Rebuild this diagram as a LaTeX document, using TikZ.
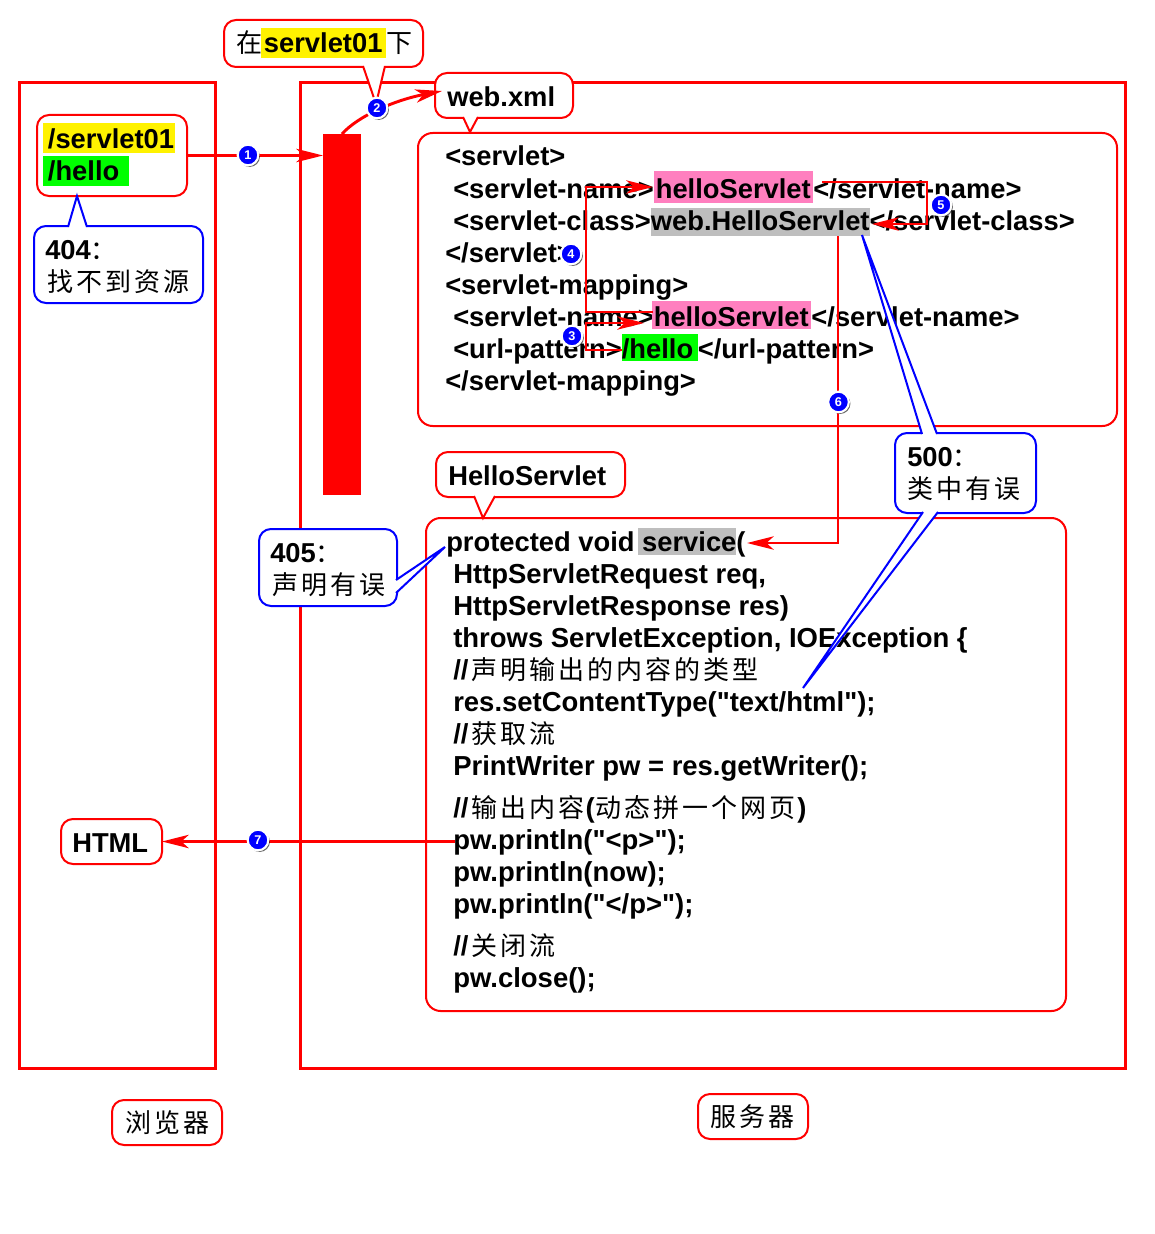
\documentclass[tikz,border=0pt]{standalone}
\usepackage{fontspec}
\setmainfont[Ligatures=TeXOff]{Liberation Sans}
\newfontfamily\cjk[LetterSpace=11.5]{Noto Sans CJK SC}
\usetikzlibrary{arrows.meta,shadows}
\definecolor{hlpink}{HTML}{FF7FBF}
\definecolor{hlgray}{HTML}{BEBEBE}
\setlength\fboxsep{0pt}
\newcommand\zh[1]{{\cjk\mdseries\fontsize{19.5}{24}\selectfont #1}}
\newcommand\hlbox[6]{\colorbox{#1}{\rule[-#3pt]{0pt}{\dimexpr#2pt+#3pt\relax}\hspace{#4pt}#6\hspace{#5pt}}}
\newcommand\tagtail[4]{%
  \fill[white] #2 -- #3 -- #4 -- cycle;
  \draw[white, line width=2.2pt] #2 -- #4;
  \draw[#1, line width=1.5pt] #2 -- #3 -- #4;}
\begin{document}
\begin{tikzpicture}[
  x=0.75pt, y=-0.75pt,
  wh/.style 2 args={minimum width=#1*0.75pt, minimum height=#2*0.75pt, inner sep=0pt, outer sep=0pt},
  frame/.style={rectangle, draw=red, line width=2.25pt},
  bigbox/.style={rectangle, draw=red, line width=1.5pt, rounded corners=11pt},
  redtag/.style={rectangle, draw=red, fill=white, line width=1.5pt, rounded corners=9pt},
  bluetag/.style={rectangle, draw=blue, fill=white, line width=1.5pt, rounded corners=9pt},
  txt/.style={anchor=base west, inner sep=0pt, font=\fontsize{20.5}{24}\selectfont\bfseries},
  codetxt/.style={txt, font=\fontsize{20.6}{24}\selectfont\bfseries},
  flow/.style={draw=red, line width=2.2pt, -{Stealth[length=20pt, width=10pt, inset=5.5pt]}},
  num/.style={circle, fill=blue, draw=white, line width=1.6pt, minimum size=15.5pt, inner sep=0pt,
    text=white, font=\fontsize{9.5}{9.5}\selectfont\bfseries,
    drop shadow={shadow xshift=1.2pt, shadow yshift=-1.2pt, fill=black, opacity=0.6}}
]
\useasboundingbox (0,0) rectangle (1155,1234);

% frames
\node[frame, wh={195.5}{985.5}] (browser) at (117.25,575.75) {};
\node[frame, wh={825}{985.5}] (server) at (713,575.75) {};
\node[wh={38}{361}, fill=red] (bar) at (342,314.5) {};
\node[bigbox, wh={699}{293}] (xmlbox) at (767.5,279.5) {};
\node[bigbox, wh={640}{493}] (codebox) at (746,764.5) {};

% web.xml text
\node[txt] (xml1) at (445,166) {<servlet>};
\node[txt] (xml2) at (453,198) {<servlet-name>\hlbox{hlpink}{20}{3.75}{1.5}{2}{helloServlet}</servlet-name>};
\node[txt] (xml3) at (453,230) {<servlet-class>\hlbox{hlgray}{16.5}{4.5}{0}{0}{web.HelloServlet}</servlet-class>};
\node[txt] (xml4) at (445,262) {</servlet>};
\node[txt] (xml5) at (445,294) {<servlet-mapping>};
\node[txt] (xml6) at (453,326) {<servlet-name>\hspace{-1.5pt}\hlbox{hlpink}{18.75}{2.25}{1.5}{2}{helloServlet}</servlet-name>};
\node[txt] (xml7) at (453,358) {<url-pattern>\hlbox{green}{18}{2.25}{0}{3.5}{/hello}</url-pattern>};
\node[txt] (xml8) at (445,390) {</servlet-mapping>};

% HelloServlet text
\node[txt] (code1) at (446,551) {protected void \hspace{-3pt}\hlbox{hlgray}{17.25}{3}{3}{0}{service}(};
\node[codetxt] (code2) at (453,583) {HttpServletRequest req,};
\node[codetxt] (code3) at (453,615) {HttpServletResponse res)};
\node[codetxt] (code4) at (453,647) {throws ServletException, IOException \{};
\node[codetxt] (code5) at (453,679) {//\hspace{2pt}\zh{声明输出的内容的类型}};
\node[codetxt] (code6) at (453,711) {res.setContentType("text/html");};
\node[codetxt] (code7) at (453,743) {//\hspace{2pt}\zh{获取流}};
\node[codetxt] (code8) at (453,775) {PrintWriter pw = res.getWriter();};
\node[codetxt] (code9) at (453,817) {//\hspace{2pt}\zh{输出内容}\hspace{1pt}(\hspace{1pt}\zh{动态拼一个网页}\hspace{1pt})};
\node[codetxt] (code10) at (453,849) {pw.println("<p>");};
\node[codetxt] (code11) at (453,881) {pw.println(now);};
\node[codetxt] (code12) at (453,913) {pw.println("</p>");};
\node[codetxt] (code13) at (453,955) {//\hspace{2pt}\zh{关闭流}};
\node[codetxt] (code14) at (453,987) {pw.close();};

% red tags
\node[redtag, wh={150}{81}] (urlbox) at (112,155.5) {};
\node[txt] (urltxt1) at (43,148.5) {\hlbox{yellow}{19}{3.4}{3.5}{1}{/servlet01}};
\node[txt] (urltxt2) at (43,180.5) {\hlbox{green}{18}{4.2}{3.5}{7}{/hello}};
\node[redtag, wh={199}{47}] (tagdir) at (323.5,43.5) {};
\tagtail{red}{(363,66)}{(376,104)}{(385,66)}
\node[txt] (dirtxt) at (236,53) {\zh{在}\hspace{-1pt}\hlbox{yellow}{18.75}{3.75}{2.25}{3}{servlet01}\zh{下}};
\node[redtag, wh={138}{45}] (webxml) at (504,95.5) {};
\tagtail{red}{(463,117)}{(470,132)}{(478,117)}
\node[txt] (webxmltxt) at (447,107) {web.xml};
\node[redtag, wh={189}{45}] (taghello) at (530.5,474.5) {};
\tagtail{red}{(474,496)}{(483,518)}{(495,496)}
\node[txt] (hellotxt) at (448,485) {HelloServlet};
\node[redtag, wh={101}{45}] (taghtml) at (111.5,841.5) {};
\node[txt] (htmltxt) at (72,852) {HTML};
\node[redtag, wh={110}{45}] (tagbrowser) at (167,1122.5) {};
\node[txt] (browsertxt) at (125,1132) {\zh{浏览器}};
\node[redtag, wh={110}{45}] (tagserver) at (753,1116.5) {};
\node[txt] (servertxt) at (710,1126) {\zh{服务器}};

% blue tags
\node[bluetag, wh={169}{77}] (tag404) at (118.5,264.5) {};
\tagtail{blue}{(68,227)}{(77,196)}{(87,227)}
\node[txt] (txt404a) at (45,259) {404\zh{：}};
\node[txt] (txt404b) at (47,291) {\zh{找不到资源}};
\node[bluetag, wh={138}{77}] (tag405) at (328,567.5) {};
\tagtail{blue}{(396,580)}{(445,547)}{(396,593)}
\node[txt] (txt405a) at (270,562) {405\zh{：}};
\node[txt] (txt405b) at (272,594) {\zh{声明有误}};
\node[bluetag, wh={141}{80}] (tag500) at (965.5,473) {};
\tagtail{blue}{(922,434)}{(862,235)}{(937,434)}
\tagtail{blue}{(923,512)}{(803,688)}{(938,512)}
\node[txt] (txt500a) at (907,466) {500\zh{：}};
\node[txt] (txt500b) at (907,498) {\zh{类中有误}};

% connector ends and bends
\coordinate (xmltip) at (442,91);
\coordinate (hellostart) at (622,350);
\coordinate (hellobend1) at (586,350);
\coordinate (hellobend2) at (586,323);
\coordinate (hellotip) at (644,323);
\coordinate (namestart) at (653,312);
\coordinate (namebend1) at (586,312);
\coordinate (namebend2) at (586,187);
\coordinate (nametip) at (653,187);
\coordinate (classstart) at (822,182);
\coordinate (classbend1) at (927,182);
\coordinate (classbend2) at (927,224);
\coordinate (classtip) at (872,224);
\coordinate (servstart) at (838,236);
\coordinate (servbend) at (838,543);
\coordinate (servtip) at (747,543);
\coordinate (htmlstart) at (455,841.5);

% connectors
\draw[flow] (urlbox.east) -- (bar.west |- urlbox.east);
\draw[flow] (bar.north) .. controls (358,116) and (395,100) .. (xmltip);
\draw[flow] (hellostart) -- (hellobend1) -- (hellobend2) -- (hellotip);
\draw[flow] (namestart) -- (namebend1) -- (namebend2) -- (nametip);
\draw[flow] (classstart) -- (classbend1) -- (classbend2) -- (classtip);
\draw[flow] (servstart) -- (servbend) -- (servtip);
\draw[flow] (htmlstart) -- (taghtml.east);

% numbers
\node[num] (n1) at (248,155) {1};
\node[num] (n2) at (377,108) {2};
\node[num] (n3) at (572,336) {3};
\node[num] (n4) at (571,254) {4};
\node[num] (n5) at (941,205) {5};
\node[num] (n6) at (838.5,402) {6};
\node[num] (n7) at (258,840) {7};
\end{tikzpicture}
\end{document}
